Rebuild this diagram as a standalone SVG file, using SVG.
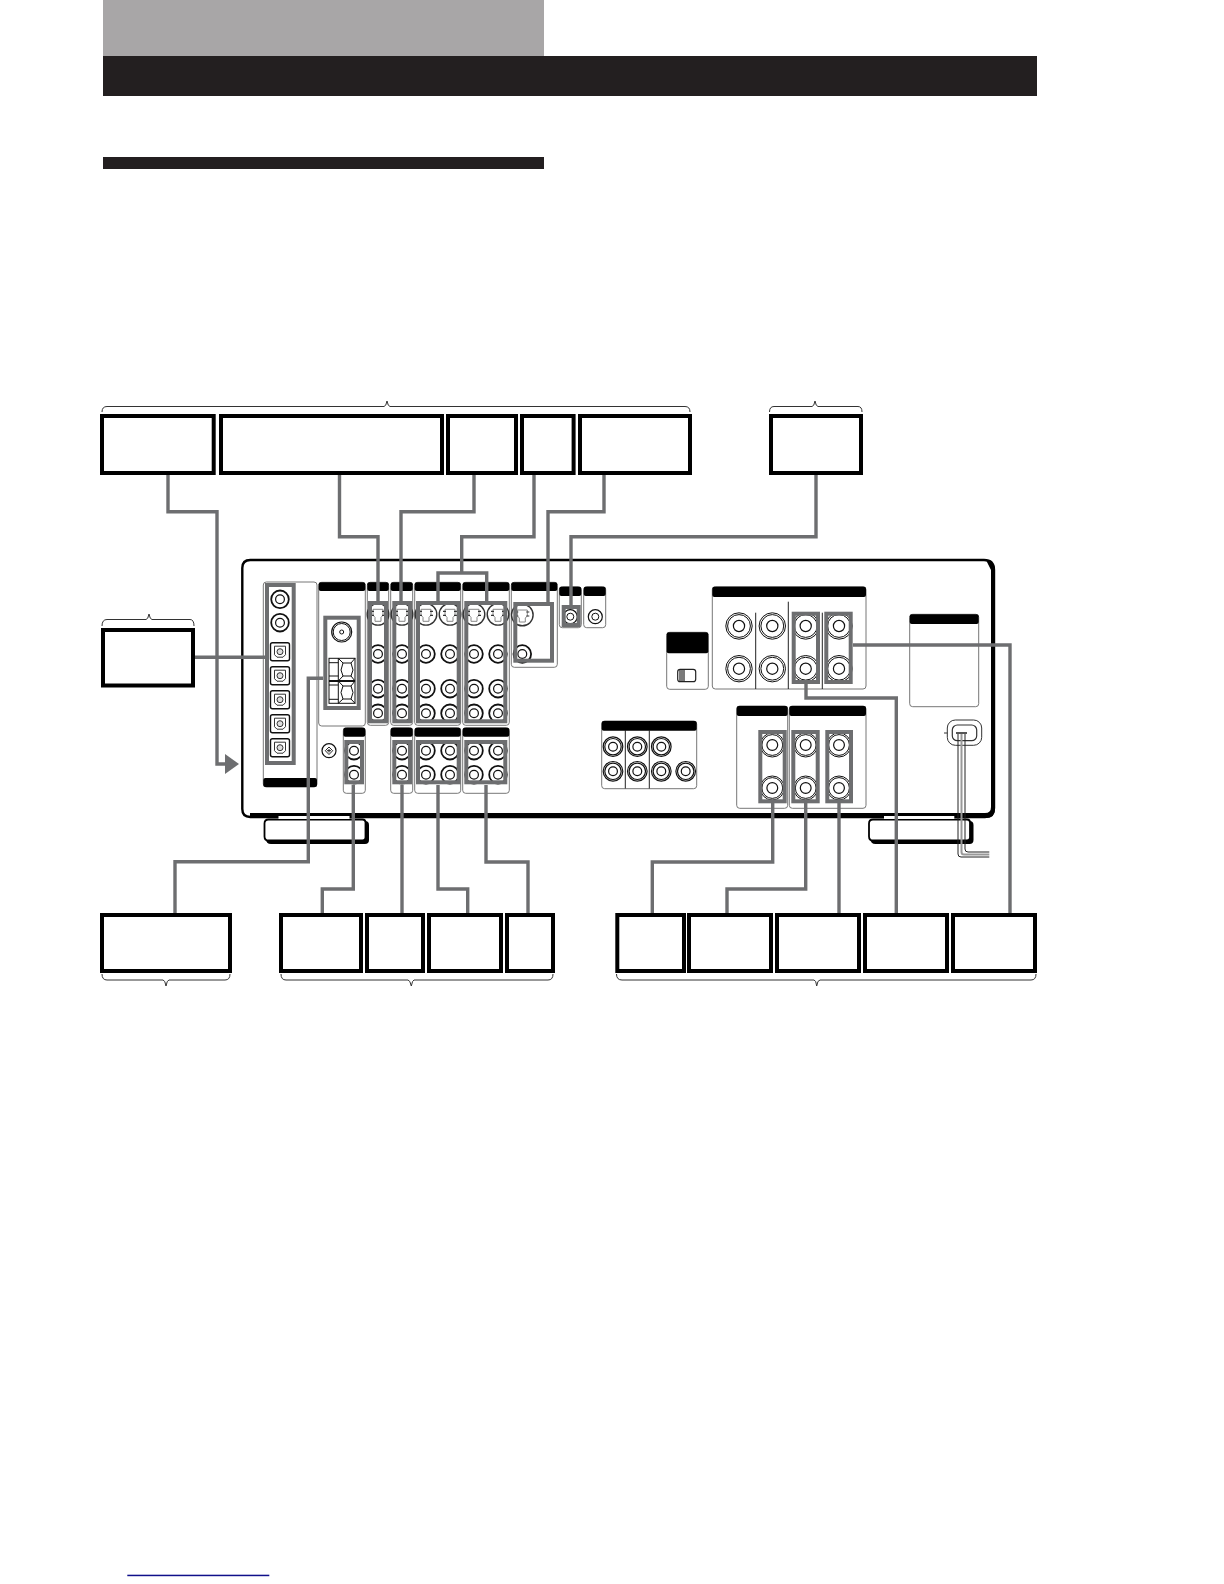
<svg xmlns="http://www.w3.org/2000/svg" xmlns:xlink="http://www.w3.org/1999/xlink" width="1224" height="1584" viewBox="0 0 1224 1584">
<style>
.box{fill:#fff;stroke:#000;stroke-width:4}
.brace{fill:none;stroke:#333;stroke-width:1}
.panel{fill:#fff;stroke:#777;stroke-width:1}
.hd{fill:#000}
.div{stroke:#222;stroke-width:1;fill:none}
.grp{fill:none;stroke:#6d6e70;stroke-width:4}
.wire{fill:none;stroke:#6d6e70;stroke-width:3.4}
.k{fill:#fff;stroke:#111}
</style>
<defs>
<g id="jack"><circle r="8.8" class="k" stroke-width="1.800"/><circle r="4.4" class="k" stroke-width="1.200"/></g>
<g id="jackm"><circle r="9.800" class="k" stroke-width="1.200"/><circle r="8.200" class="k" stroke-width="1.200"/><circle r="4.400" class="k" stroke-width="1.200"/></g>
<g id="jackb"><circle r="13.200" class="k" stroke-width="1"/><circle r="11.400" class="k" stroke-width="1"/><circle r="5.600" class="k" stroke-width="1.200"/></g>
<g id="jackc"><circle r="12" class="k" stroke-width="1"/><circle r="10.400" class="k" stroke-width="1"/><circle r="5.400" class="k" stroke-width="1.200"/></g>
<g id="sv"><circle r="10.800" fill="#fff" stroke="#333" stroke-width="1.400"/><path d="M-5-5H5V1L3 3V7H-3V3L-5 1Z" fill="#fff" stroke="#888" stroke-width="1"/><path d="M-7-3H-4M4-3H7M-7 1H-4M4 1H7" stroke="#333" stroke-width="1.200"/></g>
<g id="opt"><rect x="-9.500" y="-9" width="19" height="18" rx="2" class="k" stroke-width="1.400"/><path d="M-5.500-5.500H5.500V3L3 5.500H-3L-5.500 3Z" fill="#fff" stroke="#333"/><circle r="3" fill="#ddd" stroke="#333"/></g>
<path id="foot" d="M4 0H98Q101 0 101 3V18Q101 21 98 21H4Q0 21 0 17V4Q0 0 4 0Z"/>
<marker id="arr" viewBox="0 0 10 10" refX="0" refY="5" markerWidth="14" markerHeight="20" markerUnits="userSpaceOnUse" orient="auto" preserveAspectRatio="none"><path d="M0 0L10 5L0 10Z" fill="#6d6e70"/></marker>
</defs>

<g id="header">
<rect x="103" y="0" width="441" height="56" fill="#a8a6a7"/>
<rect x="103" y="56" width="934" height="40" fill="#231f20"/>
<rect x="103" y="157" width="441" height="12" fill="#231f20"/>
<rect x="127.300" y="1574.700" width="142" height="1.500" fill="#10108a"/>
</g>

<g id="braces">
<path class="brace" d="M102 412Q102 406.500 107 406.500H384Q386 406.500 387 401Q388 406.500 390 406.500H685Q690 406.500 690 412"/>
<path class="brace" d="M769.500 412Q769.500 406.500 774 406.500H812Q814 406.500 815 401Q816 406.500 818 406.500H858Q862 406.500 862 412"/>
<path class="brace" d="M102 626Q102 619.500 107 619.500H146Q148 619.500 149 614Q150 619.500 152 619.500H190Q194 619.500 194 626"/>
<path class="brace" d="M102 974Q102 980 107 980H163Q165 980 166 986Q167 980 169 980H225Q230 980 230 974"/>
<path class="brace" d="M281 974Q281 980 286 980H408Q410 980 411.300 986Q412.500 980 414 980H548Q553 980 553 974"/>
<path class="brace" d="M616.500 974Q616.500 980 622 980H814Q816 980 816.700 986Q817.500 980 820 980H1031Q1036 980 1036 974"/>
</g>

<g id="feet">
<use xlink:href="#foot" x="267" y="822" fill="#000" stroke="#000" stroke-width="2"/>
<use xlink:href="#foot" x="264.500" y="819.500" fill="#fff" stroke="#000" stroke-width="1.800"/>
<use xlink:href="#foot" x="871.500" y="822" fill="#000" stroke="#000" stroke-width="2"/>
<use xlink:href="#foot" x="869" y="819.500" fill="#fff" stroke="#000" stroke-width="1.800"/>
</g>
<g id="chassis">
<path d="M250.300 560H984Q994 560 994 570V808Q994 817 985 817H250.300Q242.300 817 242.300 809V568Q242.300 560 250.300 560Z" fill="#fff" stroke="#000" stroke-width="2.400"/>
<path d="M986 560Q995 562 995 570V809Q995 818 986 818H250V813H985Q991 813 991 807V570Z" fill="#000"/>
<rect x="278.500" y="816" width="71" height="3" fill="#fff"/>
<rect x="884" y="816" width="70.300" height="3" fill="#fff"/>
</g>

<g id="panels">
<rect class="panel" x="263.300" y="582" width="53.700" height="205" rx="3"/>
<rect class="hd" x="263.300" y="778" width="53.700" height="9" rx="2"/>
<rect class="panel" x="318.700" y="582.300" width="46.600" height="143.700" rx="3"/>
<rect class="panel" x="367.300" y="582.300" width="21.400" height="143" rx="3"/>
<rect class="panel" x="390.700" y="582.300" width="22" height="143" rx="3"/>
<rect class="panel" x="414.700" y="582.300" width="46" height="143" rx="3"/>
<rect class="panel" x="462.700" y="582.300" width="46.600" height="143" rx="3"/>
<rect class="panel" x="511.300" y="582.300" width="46" height="85" rx="3"/>
<rect class="panel" x="559.300" y="586.700" width="22" height="41" rx="3"/>
<rect class="panel" x="583.700" y="586.700" width="22" height="41" rx="3"/>
<rect class="hd" x="318.700" y="582.300" width="46.600" height="8.700" rx="2"/>
<rect class="hd" x="367.300" y="582.300" width="21.400" height="8.700" rx="2"/>
<rect class="hd" x="390.700" y="582.300" width="22" height="8.700" rx="2"/>
<rect class="hd" x="414.700" y="582.300" width="46" height="8.700" rx="2"/>
<rect class="hd" x="462.700" y="582.300" width="46.600" height="8.700" rx="2"/>
<rect class="hd" x="511.300" y="582.300" width="46" height="8.700" rx="2"/>
<rect class="hd" x="559.300" y="586.700" width="22" height="9.300" rx="2"/>
<rect class="hd" x="583.700" y="586.700" width="22" height="9.300" rx="2"/>
<rect class="panel" x="343.300" y="727.700" width="22" height="65.600" rx="3"/>
<rect class="panel" x="390.700" y="727.700" width="22" height="65.600" rx="3"/>
<rect class="panel" x="414.700" y="727.700" width="46" height="65.600" rx="3"/>
<rect class="panel" x="462.700" y="727.700" width="46.600" height="65.600" rx="3"/>
<rect class="hd" x="343.300" y="727.700" width="22" height="9" rx="2"/>
<rect class="hd" x="390.700" y="727.700" width="22" height="9" rx="2"/>
<rect class="hd" x="414.700" y="727.700" width="46" height="9" rx="2"/>
<rect class="hd" x="462.700" y="727.700" width="46.600" height="9" rx="2"/>
<rect class="panel" x="666.700" y="632.300" width="41.600" height="57" rx="3"/>
<rect class="hd" x="666.700" y="632.300" width="41.600" height="21" rx="2"/>
<rect x="677.700" y="669.300" width="18" height="12.400" rx="2.500" fill="#fff" stroke="#222" stroke-width="1.200"/>
<path d="M680 669.500V681.500M682 669.500V681.500M684 669.500V681.500" stroke="#222" stroke-width="1.200"/>
<rect class="panel" x="601.700" y="721" width="95" height="67.700" rx="3"/>
<rect class="hd" x="601.700" y="721" width="95" height="9.700" rx="2"/>
<path class="div" d="M625.300 730V788.500M649.300 730V788.500"/>
<rect class="panel" x="712.300" y="586.700" width="153.700" height="102.300" rx="3"/>
<rect class="hd" x="712.300" y="586.700" width="153.700" height="10.300" rx="2"/>
<path class="div" d="M755.700 612.700V689M788.300 601.700V689M822.300 612.700V689"/>
<rect class="panel" x="736.700" y="706" width="51" height="102.300" rx="3"/>
<rect class="hd" x="736.700" y="706" width="51" height="10" rx="2"/>
<rect class="panel" x="789.300" y="706" width="76.700" height="102.300" rx="3"/>
<rect class="hd" x="789.300" y="706" width="76.700" height="10" rx="2"/>
<rect class="panel" x="909.700" y="614.300" width="69" height="92.400" rx="3"/>
<rect class="hd" x="909.700" y="614.300" width="69" height="9.700" rx="2"/>
</g>

<g id="jacks">
<use xlink:href="#jack" x="280" y="599.300"/><use xlink:href="#jack" x="280" y="622.700"/>
<use xlink:href="#opt" x="280" y="651.700"/><use xlink:href="#opt" x="280" y="675.700"/><use xlink:href="#opt" x="280" y="699.700"/><use xlink:href="#opt" x="280" y="723.700"/><use xlink:href="#opt" x="280" y="747.700"/>
<circle cx="341.700" cy="632" r="10" class="k" stroke-width="1.200"/><circle cx="341.700" cy="632" r="8.500" class="k"/><circle cx="341.700" cy="632" r="2" class="k"/>
<g id="terminal-block" fill="#fff" stroke="#111" stroke-width="1">
<rect x="329" y="658.300" width="26" height="45"/>
<path d="M329 662.700H338.300M329 676H338.300M329 685H338.300M329 699.300H338.300M338.300 658.300V703.300"/>
<path d="M343 663H351L353 670L351 676H343L341 670ZM338.300 658.300L343 663M355 658.300L351 663M338.300 681L343 676M355 681L351 676"/>
<path d="M343 686H351L353 692.500L351 699H343L341 692.500ZM338.300 681L343 686M355 681L351 686M338.300 703.300L343 699M355 703.300L351 699"/>
<path d="M329 681H355" stroke-width="2"/>
</g>
<use xlink:href="#sv" x="378" y="614.300"/><use xlink:href="#sv" x="402" y="614.300"/><use xlink:href="#sv" x="426" y="614.300"/><use xlink:href="#sv" x="450" y="614.300"/><use xlink:href="#sv" x="474" y="614.300"/><use xlink:href="#sv" x="498" y="614.300"/><use xlink:href="#sv" x="522.300" y="615"/>
<use xlink:href="#jack" x="378" y="654"/><use xlink:href="#jack" x="402" y="654"/><use xlink:href="#jack" x="426" y="654"/><use xlink:href="#jack" x="450" y="654"/><use xlink:href="#jack" x="474" y="654"/><use xlink:href="#jack" x="498" y="654"/><use xlink:href="#jack" x="522.300" y="654"/>
<use xlink:href="#jack" x="378" y="688.700"/><use xlink:href="#jack" x="402" y="688.700"/><use xlink:href="#jack" x="426" y="688.700"/><use xlink:href="#jack" x="450" y="688.700"/><use xlink:href="#jack" x="474" y="688.700"/><use xlink:href="#jack" x="498" y="688.700"/>
<use xlink:href="#jack" x="378" y="713.300"/><use xlink:href="#jack" x="402" y="713.300"/><use xlink:href="#jack" x="426" y="713.300"/><use xlink:href="#jack" x="450" y="713.300"/><use xlink:href="#jack" x="474" y="713.300"/><use xlink:href="#jack" x="498" y="713.300"/>
<use xlink:href="#jack" x="354" y="750.700"/><use xlink:href="#jack" x="402" y="750.700"/><use xlink:href="#jack" x="426" y="750.700"/><use xlink:href="#jack" x="450" y="750.700"/><use xlink:href="#jack" x="474" y="750.700"/><use xlink:href="#jack" x="498" y="750.700"/>
<use xlink:href="#jack" x="354" y="774.700"/><use xlink:href="#jack" x="402" y="774.700"/><use xlink:href="#jack" x="426" y="774.700"/><use xlink:href="#jack" x="450" y="774.700"/><use xlink:href="#jack" x="474" y="774.700"/><use xlink:href="#jack" x="498" y="774.700"/>
<circle cx="570.300" cy="616.700" r="7" class="k" stroke-width="1.200"/><circle cx="570.300" cy="616.700" r="3.500" class="k"/>
<circle cx="595.300" cy="616.700" r="7" class="k" stroke-width="1.200"/><circle cx="595.300" cy="616.700" r="3.500" class="k"/>
<g id="screw"><circle cx="329" cy="750.700" r="7" class="k" stroke-width="1.200"/><path d="M329 747L332.700 750.700L329 754.500L325.300 750.700ZM327 750.700H331M329 749V752.500" fill="none" stroke="#111" stroke-width="0.900"/></g>
<use xlink:href="#jackm" x="613" y="746.700"/><use xlink:href="#jackm" x="637.300" y="746.700"/><use xlink:href="#jackm" x="661.300" y="746.700"/>
<use xlink:href="#jackm" x="613" y="771.300"/><use xlink:href="#jackm" x="637.300" y="771.300"/><use xlink:href="#jackm" x="661.300" y="771.300"/><use xlink:href="#jackm" x="685.700" y="771.300"/>
<use xlink:href="#jackb" x="739" y="626"/><use xlink:href="#jackb" x="772.300" y="626"/><use xlink:href="#jackb" x="805.700" y="626"/><use xlink:href="#jackb" x="839" y="626"/>
<use xlink:href="#jackb" x="739" y="668.700"/><use xlink:href="#jackb" x="772.300" y="668.700"/><use xlink:href="#jackb" x="805.700" y="668.700"/><use xlink:href="#jackb" x="839" y="668.700"/>
<use xlink:href="#jackc" x="772.300" y="745"/><use xlink:href="#jackc" x="805.700" y="745"/><use xlink:href="#jackc" x="839" y="745"/>
<use xlink:href="#jackc" x="772.300" y="788"/><use xlink:href="#jackc" x="805.700" y="788"/><use xlink:href="#jackc" x="839" y="788"/>
</g>

<g id="power-cord">
<rect x="947.300" y="720" width="34.400" height="25.300" rx="8" fill="#fff" stroke="#333" stroke-width="1"/>
<rect x="952.300" y="725" width="24.400" height="15.700" rx="5" fill="#fff" stroke="#333" stroke-width="1.200"/>
<path d="M944 733H947.300" stroke="#333"/>
<path d="M958 732.700V854Q958 857 961 857H989.300" fill="none" stroke="#222" stroke-width="1"/>
<path d="M961.500 732.700V852Q961.500 854.500 964 854.500H989.300" fill="none" stroke="#999" stroke-width="2"/>
<path d="M965 732.700V849Q965 852 968 852H989.300" fill="none" stroke="#222" stroke-width="1"/>
<path d="M956 733H967" stroke="#555" stroke-width="2"/>
</g>

<g id="highlights">
<rect class="grp" x="267" y="585" width="26.700" height="178"/>
<rect class="grp" x="325.300" y="617.700" width="33.400" height="90.300"/>
<rect class="grp" x="370" y="603" width="16" height="118.300"/>
<rect class="grp" x="394.300" y="603" width="15.700" height="118.300"/>
<rect class="grp" x="418" y="603" width="40.700" height="118.300"/>
<rect class="grp" x="466.300" y="603" width="39" height="118.300"/>
<rect class="grp" x="515.300" y="604" width="36.700" height="56.700"/>
<rect class="grp" x="563.700" y="607" width="15" height="18"/>
<rect class="grp" x="346.300" y="742" width="15.700" height="40.300"/>
<rect class="grp" x="394.300" y="742" width="15.700" height="40.300"/>
<rect class="grp" x="418" y="742" width="40.700" height="40.300"/>
<rect class="grp" x="466.300" y="742" width="39" height="40.300"/>
<rect class="grp" x="793.700" y="613.700" width="24.300" height="68.300"/>
<rect class="grp" x="826.300" y="613.700" width="24.400" height="68.300"/>
<rect class="grp" x="760.300" y="732" width="24.400" height="69.300"/>
<rect class="grp" x="793.300" y="732" width="24.400" height="69.300"/>
<rect class="grp" x="827.300" y="732" width="23.700" height="69.300"/>
</g>

<g id="connectors">
<path class="wire" d="M168 475V511.700H217V764H225" marker-end="url(#arr)"/>
<path class="wire" d="M339.500 475V536.700H378V601"/>
<path class="wire" d="M474 475V511.700H401V601"/>
<path class="wire" d="M534 475V536.700H461.700V573M438 601V573H486.700V601"/>
<path class="wire" d="M604 475V511.700H548V602"/>
<path class="wire" d="M816 475V536.700H571V605"/>
<path class="wire" d="M195 657.300H265"/>
<path class="wire" d="M323 678.300H308.300V861.700H175V913"/>
<path class="wire" d="M322.300 913V889H353.300V785"/>
<path class="wire" d="M402 913V785"/>
<path class="wire" d="M467.700 913V889H438V785"/>
<path class="wire" d="M528 913V862H486V785"/>
<path class="wire" d="M652.300 913V862H772.700V803"/>
<path class="wire" d="M727 913V889H805.700V803"/>
<path class="wire" d="M839 913V803"/>
<path class="wire" d="M896.300 913V698H806V684"/>
<path class="wire" d="M1010 913V645H853"/>
</g>

<g id="node-t1"><rect class="box" x="102" y="416" width="111.700" height="57"/></g>
<g id="node-t2"><rect class="box" x="221" y="416" width="221" height="57"/></g>
<g id="node-t3"><rect class="box" x="448" y="416" width="68" height="57"/></g>
<g id="node-t4"><rect class="box" x="522" y="416" width="51.600" height="57"/></g>
<g id="node-t5"><rect class="box" x="580" y="416" width="110" height="57"/></g>
<g id="node-t6"><rect class="box" x="771" y="416" width="90" height="57"/></g>
<g id="node-l"><rect class="box" x="103" y="630" width="90" height="55.500"/></g>
<g id="node-b1"><rect class="box" x="102" y="915" width="128" height="56"/></g>
<g id="node-b2"><rect class="box" x="281" y="915" width="80" height="56"/></g>
<g id="node-b3"><rect class="box" x="367" y="915" width="56" height="56"/></g>
<g id="node-b4"><rect class="box" x="429" y="915" width="72" height="56"/></g>
<g id="node-b5"><rect class="box" x="507" y="915" width="46" height="56"/></g>
<g id="node-b6"><rect class="box" x="617.300" y="915" width="66.700" height="56"/></g>
<g id="node-b7"><rect class="box" x="689" y="915" width="82" height="56"/></g>
<g id="node-b8"><rect class="box" x="777" y="915" width="82" height="56"/></g>
<g id="node-b9"><rect class="box" x="865" y="915" width="82" height="56"/></g>
<g id="node-b10"><rect class="box" x="953" y="915" width="82" height="56"/></g>
</svg>
